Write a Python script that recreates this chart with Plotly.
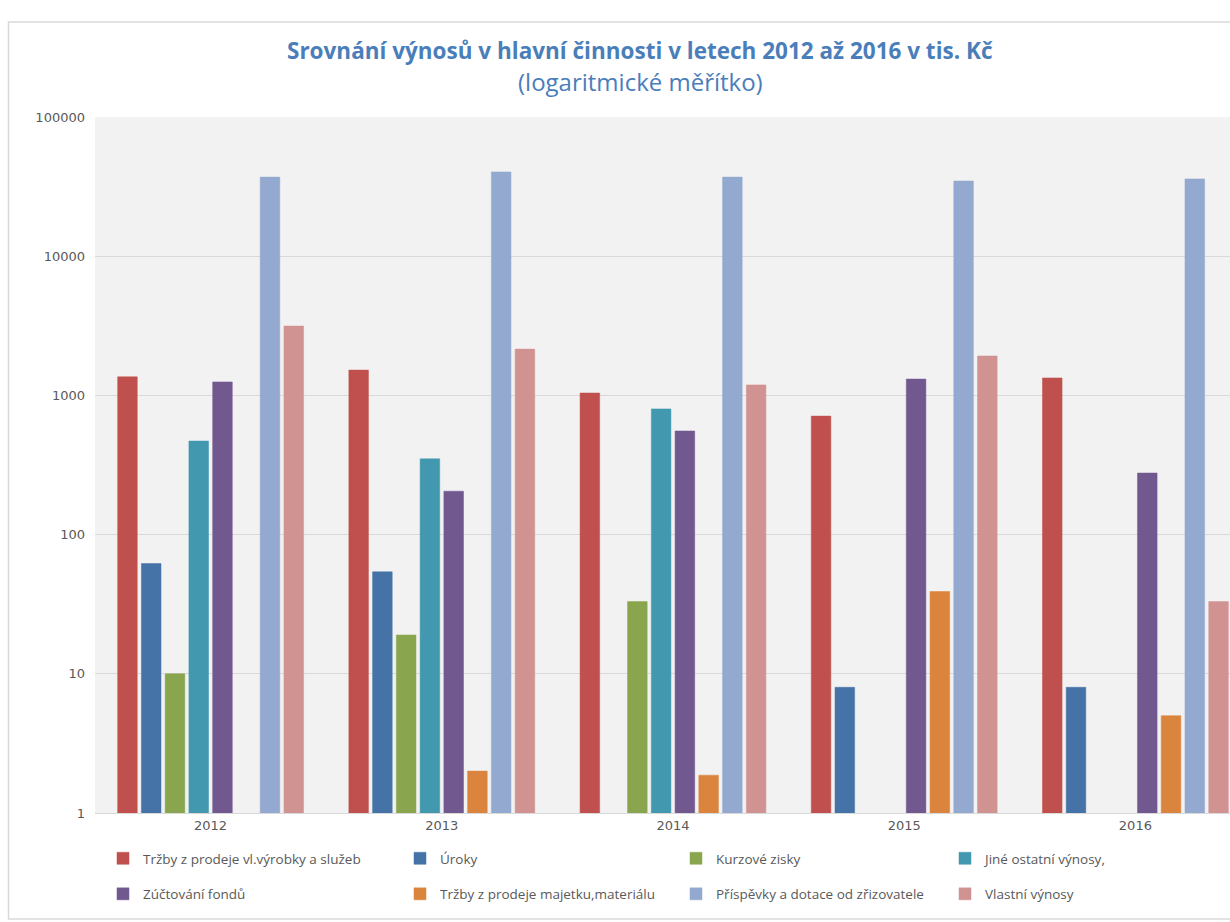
import plotly.graph_objects as go

years = ["2012", "2013", "2014", "2015", "2016"]

trzby_vyrobky = [1360, 1520, 1040, 710, 1335]
uroky = [62, 54, None, 8, 8]
kurzove_zisky = [10, 19, 33, None, None]
jine_vynosy = [470, 350, 800, None, None]
zuctovani_fondu = [1250, 205, 555, 1310, 277]
trzby_majetek = [None, 2, 1.87, 39, 5]
prispevky = [37000, 40300, 37000, 34700, 35900]
vlastni_vynosy = [3150, 2150, 1190, 1920, 33]

series_names = [
    "Tržby z prodeje vl.výrobky a služeb", "Úroky", "Kurzové zisky", "Jiné ostatní výnosy,",
    "Zúčtování fondů", "Tržby z prodeje majetku,materiálu", "Příspěvky a dotace od zřizovatele", "Vlastní výnosy",
]
series_values = [trzby_vyrobky, uroky, kurzove_zisky, jine_vynosy,
                 zuctovani_fondu, trzby_majetek, prispevky, vlastni_vynosy]
colors = ["#c0504d", "#4572a7", "#89a54e", "#4198af",
          "#71588f", "#db843d", "#93a9cf", "#d19392"]

tick_vals = [1, 10, 100, 1000, 10000, 100000]
tick_text = ["1", "10", "100", "1000", "10000", "100000"]

W, H = 1230, 922
L, T, B = 95, 117, 109
pw = W - L
ph = H - T - B

def px_x(x):
    return (x - L) / pw

def px_y(y):
    return (H - B - y) / ph

legend_ids = ["legend", "legend2", "legend3", "legend4"]

fig = go.Figure()
for i, (name, vals, col) in enumerate(zip(series_names, series_values, colors)):
    fig.add_trace(go.Bar(
        x=years, y=vals, name=name,
        marker=dict(color=col, line=dict(color=col, width=0.5)),
        legend=legend_ids[i % 4],
        legendgroup="g%d" % i,
    ))

legend_font = dict(family="Open Sans, Lato, sans-serif", size=13.5, color="#595959")
col_x = [103, 400, 676, 945]

legend_layout = {}
for k, lid in enumerate(legend_ids):
    legend_layout[lid] = dict(
        orientation="v", x=px_x(col_x[k]), y=px_y(843), xanchor="left", yanchor="top",
        font=legend_font, bgcolor="rgba(0,0,0,0)", itemwidth=30,
        traceorder="grouped", tracegroupgap=15,
    )

fig.update_layout(
    width=W, height=H,
    margin=dict(l=L, r=0, t=T, b=B),
    paper_bgcolor="white",
    plot_bgcolor="#f2f2f2",
    barmode="group",
    bargap=0.178,
    bargroupgap=0.175,
    showlegend=True,
    xaxis=dict(
        type="category",
        range=[-0.5, -0.5 + pw / 231.2],
        showgrid=False,
        showline=True, linecolor="#d9d9d9", linewidth=1,
        ticks="",
        tickfont=dict(family="DejaVu Sans, sans-serif", size=13, color="#595959"),
    ),
    yaxis=dict(
        type="log",
        range=[0, 5],
        tickvals=tick_vals,
        ticktext=tick_text,
        showgrid=True, gridcolor="#d9d9d9", gridwidth=1,
        zeroline=False, showline=False,
        ticks="",
        ticklabelstandoff=9,
        tickfont=dict(family="DejaVu Sans, sans-serif", size=13, color="#595959"),
    ),
    annotations=[
        dict(text="<b>Srovnání výnosů v hlavní činnosti v letech 2012 až 2016 v tis. Kč</b>",
             xref="paper", yref="paper", x=px_x(640), y=px_y(50), xanchor="center", yanchor="middle",
             showarrow=False, font=dict(family="Open Sans, Lato, sans-serif", size=22.5, color="#4a7ebb")),
        dict(text="(logaritmické měřítko)",
             xref="paper", yref="paper", x=px_x(640), y=px_y(82), xanchor="center", yanchor="middle",
             showarrow=False, font=dict(family="Open Sans, Lato, sans-serif", size=24, color="#4a7ebb")),
    ],
    shapes=[
        dict(type="rect", xref="paper", yref="paper",
             x0=px_x(8.5), x1=px_x(1260), y0=px_y(919), y1=px_y(22),
             line=dict(color="#d9d9d9", width=1.5), fillcolor="rgba(0,0,0,0)", layer="below"),
    ],
    **legend_layout,
)

fig.write_html("out.html",
               config={"displayModeBar": False},
               post_script="document.body.style.margin='0';document.body.style.overflow='hidden';")
